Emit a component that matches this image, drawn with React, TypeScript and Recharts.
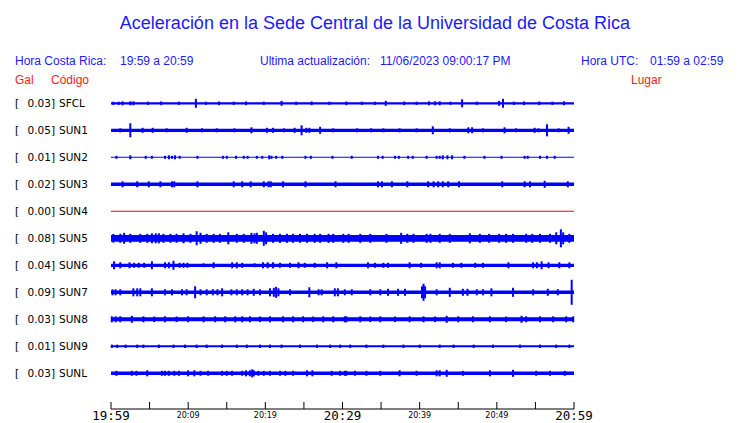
import React from 'react';
import { ComposedChart, Area, Scatter, ErrorBar, XAxis, YAxis } from 'recharts';

// station rows, top to bottom
const stations = ['SFCL', 'SUN1', 'SUN2', 'SUN3', 'SUN4', 'SUN5', 'SUN6', 'SUN7', 'SUN8', 'SUN9', 'SUNL'];
const peakGal = ['0.03', '0.05', '0.01', '0.02', '0.00', '0.08', '0.04', '0.09', '0.03', '0.01', '0.03'];
const places = [
  'Finca El Corralillo, Coronado', 'CIMAR', 'Ingenieria P01', 'Ingenieria P06', 'EBCI', 'Rectoria',
  'Agroalimentarias', 'Archivo', 'Electrica P06', 'Electrica P01', 'LANAMME-CTT',
];
const traceColors = ['#0000ff', '#0000ff', '#0000ff', '#0000ff', '#ff0000', '#0000ff', '#0000ff', '#0000ff', '#0000ff', '#0000ff', '#0000ff'];

// background noise half-width of each trace (row spacing = 27)
const bandHalf = [1.1, 1.6, 0.5, 1.7, 0.5, 3.4, 1.6, 1.8, 2.0, 1.0, 1.8];

// [minute, half amplitude] of the visible bursts
const spikesSFCL = [[0.3, 1.6], [1.0, 1.6], [1.5, 2], [2.5, 2], [2.9, 2], [4.8, 1.6], [6.5, 1.8], [8.8, 1.6], [11.0, 4.5], [12.3, 1.6], [14.0, 1.8], [15.9, 1.6], [17.5, 1.8], [19.8, 1.6], [22.1, 2.5], [24.0, 1.6], [26.0, 1.8], [28.3, 1.6], [30.5, 1.8], [32.5, 1.6], [34.2, 1.6], [35.6, 2.5], [38.0, 1.8], [39.6, 1.6], [41.2, 2], [42.0, 2], [42.6, 2], [44.0, 1.6], [45.5, 4], [47.4, 1.6], [50.3, 2.5], [50.8, 4.5], [52.2, 1.6], [53.5, 1.8], [55.5, 1.8], [57.2, 1.6], [58.7, 2]];
const spikesSUN1 = [[1.2, 2], [2.5, 7], [4.1, 2.5], [5.4, 2.5], [7.2, 2], [9.8, 2.5], [11.8, 2], [13.7, 2], [16.0, 2], [18.2, 3], [20.2, 2.5], [21.0, 2.5], [22.4, 2], [23.8, 2.5], [24.7, 5], [25.3, 2.5], [25.7, 2.5], [27.1, 3.5], [28.8, 2], [31.9, 2], [33.7, 2], [35.3, 2], [37.4, 2], [39.6, 2], [41.7, 4], [43.9, 2], [46.3, 3], [46.8, 3], [48.2, 2], [51.0, 3], [52.5, 2], [54.9, 2.5], [55.4, 2], [56.5, 6], [58.0, 2], [59.3, 3.5]];
const spikesSUN2 = [[0.7, 1.5], [2.5, 2], [4.5, 1.5], [5.3, 1.5], [7.0, 1.5], [7.5, 2], [7.9, 1.5], [8.3, 2], [8.9, 1.5], [11.2, 1.5], [14.5, 1.5], [15.0, 1.5], [16.2, 1.5], [17.2, 1.5], [17.7, 1.5], [18.9, 1.5], [19.6, 1.5], [20.5, 2], [20.8, 1.5], [21.4, 1.5], [22.2, 1.5], [25.2, 1.5], [25.9, 1.5], [28.7, 1.5], [31.2, 1.5], [34.6, 1.5], [35.2, 1.5], [36.8, 1.5], [37.3, 1.5], [38.5, 1.5], [39.1, 1.5], [40.9, 1.5], [42.2, 1.5], [42.6, 1.5], [43.0, 2], [43.6, 2], [44.2, 2], [45.8, 1.5], [48.4, 1.5], [50.6, 1.5], [53.6, 1.5], [54.0, 1.5], [55.6, 1.5], [56.5, 1.5], [57.5, 1.5]];
const spikesSUN3 = [[1.5, 3], [3.4, 3], [4.9, 3], [6.4, 3], [7.9, 3], [8.2, 3], [11.2, 3], [15.9, 3], [17.0, 3], [18.1, 3], [19.8, 3], [20.4, 3], [20.7, 3], [22.3, 3], [25.2, 3], [29.1, 3], [34.6, 3], [35.1, 3], [36.4, 3], [38.4, 3], [41.1, 3], [41.8, 3], [42.4, 3], [43.0, 3], [43.7, 3], [45.1, 3], [50.7, 3], [53.6, 3], [54.3, 3], [56.2, 3.5], [59.2, 3]];
const spikesSUN4: number[][] = [];
const spikesSUN5 = [[0.3, 4.3], [1.2, 4.5], [1.7, 5.5], [2.5, 4.5], [3.8, 4.5], [4.7, 4.5], [5.3, 5], [5.8, 5], [6.2, 5], [6.8, 4.5], [7.7, 4.5], [8.5, 4.5], [9.4, 5], [10.3, 4.5], [11.1, 7], [11.6, 5.5], [12.4, 4.5], [13.3, 4.5], [14.1, 4.5], [15.2, 6], [16.3, 4.5], [17.2, 4.5], [18.2, 5.5], [18.6, 5], [18.9, 5.5], [19.8, 7.5], [20.1, 6], [21.0, 4.5], [21.9, 4.5], [22.8, 4.5], [23.6, 4.5], [24.5, 4.5], [25.4, 4.5], [26.4, 4.5], [27.1, 4.5], [28.2, 4.5], [28.8, 4.5], [30.1, 4.5], [30.8, 4.5], [32.3, 4.5], [33.6, 4.5], [35.7, 4.5], [37.6, 5.5], [38.4, 4.5], [39.2, 4.5], [40.9, 4.5], [41.4, 4.5], [42.6, 4.5], [43.9, 4.5], [46.5, 5], [47.8, 4.5], [49.0, 4.5], [50.3, 4.5], [51.2, 4.5], [52.1, 4.5], [53.8, 4.5], [54.6, 4.5], [55.6, 4.5], [56.9, 4.5], [57.7, 6], [58.3, 9], [58.6, 6], [59.4, 4.5]];
const spikesSUN6 = [[0.4, 4], [1.2, 3], [2.4, 3], [3.0, 2.5], [3.6, 2.5], [4.3, 2.5], [5.3, 4], [7.0, 3], [7.5, 3], [8.1, 4.5], [8.9, 2.5], [9.4, 2.5], [9.9, 2.5], [12.0, 2], [13.3, 3], [15.7, 3], [16.3, 3], [17.0, 2.5], [18.6, 2], [19.7, 3], [20.3, 3], [21.0, 3], [21.9, 2.5], [23.2, 2.5], [24.3, 3], [25.1, 2.5], [26.4, 2.5], [28.0, 3], [29.2, 3], [33.3, 3], [34.2, 2.5], [35.3, 2.5], [35.9, 2.5], [38.7, 3], [40.2, 2.5], [42.2, 3], [42.6, 3], [44.3, 2.5], [45.4, 2.5], [47.2, 2.5], [48.2, 2.5], [51.5, 3], [54.7, 3], [55.2, 3], [55.8, 4], [56.7, 3], [58.1, 3], [59.4, 3]];
const spikesSUN7 = [[0.2, 3], [0.6, 3], [1.2, 3], [2.9, 4], [3.4, 4], [3.8, 4], [5.3, 4], [7.0, 3], [7.9, 3], [9.2, 3], [9.8, 3], [10.9, 6], [11.6, 3], [12.4, 3], [13.2, 3], [13.8, 3], [14.4, 4], [15.6, 3], [16.3, 3], [17.0, 3], [17.7, 3], [18.5, 3.5], [19.3, 3], [20.6, 4], [21.1, 4.5], [21.4, 5.5], [21.7, 4], [23.2, 3], [25.7, 5], [26.9, 3], [27.3, 3], [29.0, 4], [29.4, 4], [30.3, 3], [31.2, 3], [33.6, 3], [34.9, 3], [35.9, 3.5], [37.2, 3.5], [38.1, 3.5], [40.3, 6], [40.5, 8.5], [40.7, 6], [42.2, 3], [43.9, 4.5], [45.6, 3.5], [46.2, 3.5], [47.4, 3], [48.2, 3], [49.3, 4], [52.1, 4.5], [54.7, 3], [56.6, 3.5], [57.9, 3], [59.7, 12.5]];
const spikesSUN8 = [[0.1, 3], [0.6, 3], [1.2, 3], [2.7, 3.5], [4.2, 3], [5.6, 2.8], [7.0, 3], [8.5, 2.8], [10.0, 3], [12.0, 3], [13.5, 3], [14.8, 3], [16.1, 3], [17.0, 3], [18.0, 3], [19.3, 2.8], [20.6, 3], [22.3, 3], [23.6, 3], [24.9, 3], [26.2, 2.8], [27.5, 3], [28.8, 3], [30.3, 3], [30.5, 3], [32.3, 3], [33.6, 2.8], [34.9, 3], [36.8, 2.8], [38.7, 3], [40.5, 3], [42.0, 2.8], [43.5, 3.5], [45.0, 3], [46.9, 3], [49.1, 3], [51.2, 2.8], [53.2, 3.5], [53.8, 3], [55.6, 3], [57.3, 3], [59.0, 3], [59.9, 3]];
const spikesSUN9 = [[0.1, 1.7], [0.8, 1.7], [1.9, 1.7], [3.4, 1.7], [4.2, 1.7], [6.2, 1.7], [8.1, 1.7], [9.6, 1.7], [11.1, 1.7], [12.4, 1.7], [14.4, 1.7], [16.3, 1.7], [17.6, 1.7], [19.3, 1.7], [20.6, 1.7], [22.1, 1.7], [24.5, 1.7], [26.7, 1.7], [28.4, 1.7], [29.7, 1.7], [31.0, 1.7], [33.1, 1.7], [35.3, 1.7], [37.9, 1.7], [40.0, 1.7], [42.6, 1.7], [44.4, 1.7], [47.0, 1.7], [49.5, 1.7], [53.0, 1.7], [55.6, 1.7], [57.7, 1.7], [59.4, 1.7]];
const spikesSUNL = [[0.7, 2.5], [2.7, 2.5], [3.3, 2.5], [4.7, 3], [6.6, 2.5], [7.0, 2.5], [7.5, 2.5], [8.2, 2.5], [8.8, 2.5], [10.0, 3], [10.8, 3], [11.6, 2.5], [12.6, 2.5], [14.4, 2.5], [15.0, 2.5], [15.7, 2.5], [17.0, 2.5], [17.5, 3], [18.0, 3], [18.3, 4], [18.5, 3], [19.1, 2.5], [19.8, 2.5], [20.6, 2.5], [21.9, 2.5], [22.6, 2.5], [23.6, 2.5], [25.4, 3], [26.1, 3], [28.6, 2.5], [29.7, 2.5], [30.3, 2.5], [30.5, 2.5], [31.6, 2.5], [33.1, 2.5], [34.9, 2.5], [37.4, 3], [39.6, 2.5], [42.2, 3], [42.6, 3], [43.5, 3.5], [45.6, 2.5], [49.1, 3], [52.1, 3.5], [55.1, 2.5], [56.9, 2.5], [58.8, 2.5]];

const spikeLists = [spikesSFCL, spikesSUN1, spikesSUN2, spikesSUN3, spikesSUN4, spikesSUN5, spikesSUN6, spikesSUN7, spikesSUN8, spikesSUN9, spikesSUNL];

// x axis: minutes after 19:59 local time
const tickMinutes = [0, 5, 10, 15, 20, 25, 30, 35, 40, 45, 50, 55, 60];
const tickText = ['19:59', '', '20:09', '', '20:19', '', '20:29', '', '20:39', '', '20:49', '', '20:59'];
const bigTicks = ['19:59', '20:29', '20:59'];

const ROW = 27;
const rowCenter = (i: number) => (stations.length - 1 - i) * ROW;
const rowTicks = stations.map((_, i) => rowCenter(i));
const rowOf = (v: number) => stations.length - 1 - Math.round(v / ROW);

const bandRows = [0, 60].map((t) => {
  const row: any = { t };
  stations.forEach((_, i) => {
    row['b' + i] = [rowCenter(i) - bandHalf[i], rowCenter(i) + bandHalf[i]];
  });
  return row;
});

const spikeData = spikeLists.map((list, i) => list.map(([t, a]) => ({ t, y: rowCenter(i), e: a })));

const labelFont = "'DejaVu Sans', sans-serif";

const LeftTick = (props: any) => {
  const { x, y, payload } = props;
  const i = rowOf(payload.value);
  return (
    <g fontFamily={labelFont} fontSize={10.5} fill="#000">
      <text x={x - 96} y={y + 4}>[</text>
      <text x={x - 56} y={y + 4} textAnchor="end">{peakGal[i]}]</text>
      <text x={x - 52} y={y + 4}>{stations[i]}</text>
    </g>
  );
};

const RightTick = (props: any) => {
  const { x, y, payload } = props;
  const i = rowOf(payload.value);
  return (
    <text x={x + 13} y={y + 4} fontFamily={labelFont} fontSize={10.5} fill="#000">
      {places[i]}
    </text>
  );
};

const TimeTick = (props: any) => {
  const { x, y, payload } = props;
  const label = tickText[tickMinutes.indexOf(payload.value)];
  if (!label) return <g />;
  const big = bigTicks.includes(label);
  return (
    <text
      x={x}
      y={y + (big ? 10.5 : 8.5)}
      textAnchor="middle"
      fontFamily={big ? "'DejaVu Sans Mono', monospace" : labelFont}
      fontSize={big ? 12.5 : 8}
      fill="#000"
    >
      {label}
    </text>
  );
};

const txt = (extra: React.CSSProperties): React.CSSProperties => ({
  position: 'absolute',
  fontFamily: "'Liberation Sans', Arial, sans-serif",
  lineHeight: 1,
  whiteSpace: 'pre',
  ...extra,
});

const BLUE = '#1a1aff';
const RED = '#ff1a1a';

export default function App() {
  return (
    <div style={{ position: 'absolute', left: 0, top: 0, width: 740, height: 423, background: '#fff' }}>
      <div style={txt({ left: 75, top: 14, width: 600, textAlign: 'center', fontSize: 18, color: BLUE })}>
        Aceleración en la Sede Central de la Universidad de Costa Rica
      </div>
      <div style={txt({ left: 15, top: 55, fontSize: 12, color: BLUE })}>Hora Costa Rica:</div>
      <div style={txt({ left: 120, top: 55, fontSize: 12, color: BLUE })}>19:59 a 20:59</div>
      <div style={txt({ left: 260, top: 55, fontSize: 12, color: BLUE })}>Ultima actualización:</div>
      <div style={txt({ left: 380, top: 55, fontSize: 12, color: BLUE })}>11/06/2023 09:00:17 PM</div>
      <div style={txt({ left: 581, top: 55, fontSize: 12, color: BLUE })}>Hora UTC:</div>
      <div style={txt({ left: 650, top: 55, fontSize: 12, color: BLUE })}>01:59 a 02:59</div>
      <div style={txt({ left: 15, top: 74, fontSize: 12, color: RED })}>Gal</div>
      <div style={txt({ left: 51, top: 74, fontSize: 12, color: RED })}>Código</div>
      <div style={txt({ left: 631, top: 74, fontSize: 12, color: RED })}>Lugar</div>

      <ComposedChart
        width={740}
        height={423}
        data={bandRows}
        margin={{ top: 90, right: 0, bottom: 0, left: 0 }}
      >
        <XAxis
          dataKey="t"
          type="number"
          domain={[0, 60]}
          ticks={tickMinutes}
          interval={0}
          height={14}
          tickSize={-7}
          tickMargin={7}
          stroke="#000"
          tick={<TimeTick />}
        />
        <YAxis
          yAxisId="l"
          type="number"
          domain={[-35.7, 283.3]}
          ticks={rowTicks}
          interval={0}
          width={111}
          axisLine={false}
          tickLine={false}
          tickSize={0}
          tickMargin={0}
          tick={<LeftTick />}
        />
        <YAxis
          yAxisId="r"
          orientation="right"
          type="number"
          domain={[-35.7, 283.3]}
          ticks={rowTicks}
          interval={0}
          width={166}
          axisLine={false}
          tickLine={false}
          tickSize={0}
          tickMargin={0}
          tick={<RightTick />}
        />
        {stations.map((s, i) => (
          <Area
            key={'band' + s}
            yAxisId="l"
            type="linear"
            dataKey={'b' + i}
            stroke="none"
            fill={traceColors[i]}
            fillOpacity={1}
            dot={false}
            activeDot={false}
            isAnimationActive={false}
          />
        ))}
        {stations.map((s, i) => (
          <Scatter
            key={'spk' + s}
            yAxisId="l"
            data={spikeData[i]}
            dataKey="y"
            fill="none"
            isAnimationActive={false}
          >
            <ErrorBar dataKey="e" direction="y" width={0} stroke={traceColors[i]} strokeWidth={2} isAnimationActive={false} />
          </Scatter>
        ))}
      </ComposedChart>
    </div>
  );
}
